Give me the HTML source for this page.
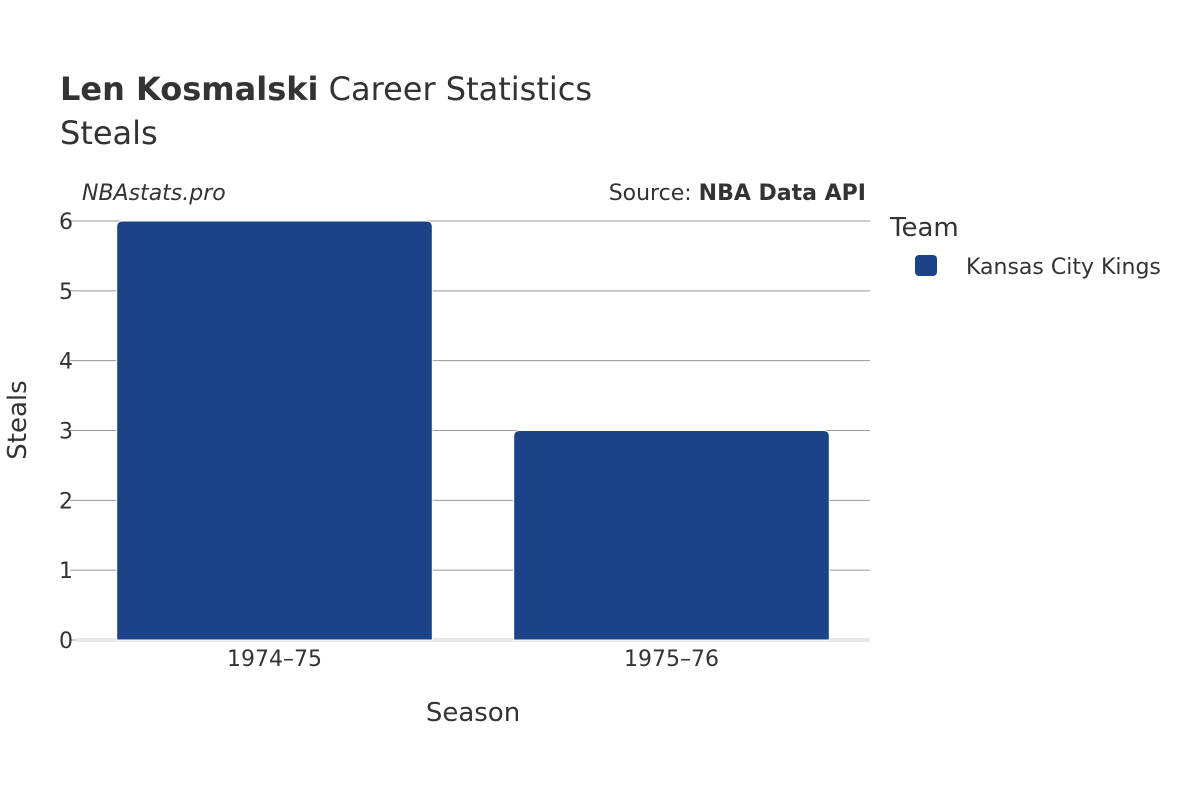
<!DOCTYPE html>
<html><head><meta charset="utf-8"><style>
html,body{margin:0;padding:0;background:#fff;}
svg{display:block;font-family:"DejaVu Sans","Liberation Sans",sans-serif;}
</style></head><body>
<svg id="chart" width="1200" height="800" viewBox="0 0 1200 800">
<text x="60" y="100" font-size="32" fill="#333"><tspan font-weight="bold">Len Kosmalski</tspan> Career Statistics</text>
<text x="60" y="144" font-size="32" fill="#333">Steals</text>
<text x="82" y="200" font-size="22" font-style="italic" fill="#333">NBAstats.pro</text>
<text x="866" y="200" font-size="22" fill="#333" text-anchor="end">Source: <tspan font-weight="bold">NBA Data API</tspan></text>
<g id="grid"></g>
<g id="bars"></g>
<g id="yticks"></g>
<g id="xticks"></g>
<text x="473" y="721" font-size="26" fill="#333" text-anchor="middle">Season</text>
<text transform="translate(26,420) rotate(-90)" font-size="26" fill="#333" text-anchor="middle">Steals</text>
<text x="890" y="236" font-size="26" fill="#333">Team</text>
<g>
<rect x="915" y="255" width="22" height="21" rx="4" fill="#1c4387"></rect>
<text x="966" y="274" font-size="22" fill="#333">Kansas City Kings</text>
</g>
</svg>
<script>
const categories = ["1974–75", "1975–76"];
const steals = [6, 3];
const yTickValues = [0, 1, 2, 3, 4, 5, 6];
const NS = "http://www.w3.org/2000/svg";
const x0 = 76, x1 = 870, yTop = 221, yBot = 640, yMax = 6;
const band = (x1 - x0) / categories.length;
function xCenter(i){ return x0 + band * (i + 0.5); }
function yScale(v){ return yBot - (v / yMax) * (yBot - yTop); }
function mk(tag, attrs, parent){ const e = document.createElementNS(NS, tag); for (const k in attrs) e.setAttribute(k, attrs[k]); parent.appendChild(e); return e; }
const grid = document.getElementById("grid"), bars = document.getElementById("bars"),
      yt = document.getElementById("yticks"), xt = document.getElementById("xticks");
yTickValues.forEach(v => {
  const y = yScale(v);
  const l = mk("line", {x1: x0, x2: x1, y1: y, y2: y, stroke: v === 0 ? "#e8e8e8" : "#999", "stroke-width": v === 0 ? 4 : 1}, grid);
  
  
  const tk = mk("line", {x1: x0 - 6, x2: x0, y1: y, y2: y, stroke: "#999", "stroke-width": 1}, grid);
  
  
  const t = mk("text", {x: 73, y: y + 8, "font-size": 22, fill: "#333", "text-anchor": "end"}, yt);
  t.textContent = v;
  
  
});
categories.forEach((c, i) => {
  const w = band * 0.795, cx = xCenter(i), xl = cx - w / 2, yt0 = yScale(steals[i]), h = yBot - yt0, r = 6;
  const d = `M${xl},${yBot} L${xl},${yt0 + r} Q${xl},${yt0} ${xl + r},${yt0} L${xl + w - r},${yt0} Q${xl + w},${yt0} ${xl + w},${yt0 + r} L${xl + w},${yBot} Z`;
  const p = mk("path", {d: d, fill: "#1c4387", stroke: "#fff", "stroke-width": 1}, bars);
  
  
  const t = mk("text", {x: cx, y: 666, "font-size": 22, fill: "#333", "text-anchor": "middle"}, xt);
  t.textContent = c;
  
  
});
</script>
</body></html>
